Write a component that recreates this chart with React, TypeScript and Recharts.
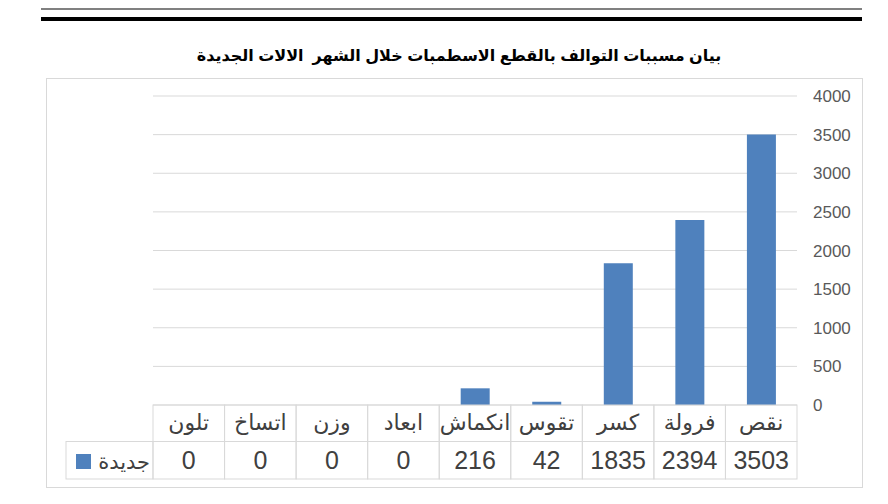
import React from 'react'
import { BarChart, Bar, XAxis, YAxis, CartesianGrid } from 'recharts'

// categories read right-to-left as in the original sheet
const categories = ['نقص', 'فرولة', 'كسر', 'تقوس', 'انكماش', 'ابعاد', 'وزن', 'اتساخ', 'تلون']
const newMachines = [3503, 2394, 1835, 42, 216, 0, 0, 0, 0]
const yTicks = [0, 500, 1000, 1500, 2000, 2500, 3000, 3500, 4000]
const seriesName = 'جديدة'
const title = 'بيان مسببات التوالف بالقطع الاسطمبات خلال الشهر  الالات الجديدة'

const W = 888
const H = 504
const MARGIN = { top: 96, right: 31, left: 153, bottom: 25 }
const Y_AXIS_W = 60
const PLOT_W = W - MARGIN.left - MARGIN.right - Y_AXIS_W
const CELL_W = PLOT_W / categories.length
const ROW1_H = 36.5
const ROW2_H = 37.5
const LEGEND_W = 87

const BAR_COLOR = '#4f81bd'
const LINE_COLOR = '#d9d9d9'
const TEXT_COLOR = '#404040'
const FONT = '"Liberation Sans", "DejaVu Sans", sans-serif'

const chartData = categories.map((name, i) => ({ name, [seriesName]: newMachines[i] }))

// the data table under the plot, drawn one column per tick
const TableTick = (props: any) => {
  const { x, y, payload } = props
  const idx = payload.index
  const left = x - CELL_W / 2
  const isLast = idx === categories.length - 1
  return (
    <g>
      <rect x={left} y={y} width={CELL_W} height={ROW1_H} fill="none" stroke={LINE_COLOR} />
      <rect x={left} y={y + ROW1_H} width={CELL_W} height={ROW2_H} fill="none" stroke={LINE_COLOR} />
      <text x={x} y={y + 25} textAnchor="middle" fontSize={22} fill={TEXT_COLOR} fontFamily={FONT}>
        {payload.value}
      </text>
      <text x={x} y={y + 64} textAnchor="middle" fontSize={25} fill={TEXT_COLOR} fontFamily={FONT}>
        {newMachines[idx]}
      </text>
      {isLast && (
        <g>
          <rect x={left - LEGEND_W} y={y + ROW1_H} width={LEGEND_W} height={ROW2_H} fill="none" stroke={LINE_COLOR} />
          <rect x={left - LEGEND_W + 10} y={y + ROW1_H + 12.5} width={15} height={15} fill={BAR_COLOR} />
          <text x={left - 3} y={y + ROW1_H + 27} textAnchor="end" fontSize={21} fill={TEXT_COLOR} fontFamily={FONT}>
            {seriesName}
          </text>
        </g>
      )}
    </g>
  )
}

export default function App() {
  return (
    <div style={{ position: 'absolute', left: 0, top: 0, width: W, height: H, background: '#fff', fontFamily: FONT }}>
      <div style={{ position: 'absolute', left: 41, top: 8, width: 821, height: 2, background: '#808080' }} />
      <div style={{ position: 'absolute', left: 41, top: 17, width: 821, height: 4, background: '#000' }} />
      <div style={{ position: 'absolute', left: 46, top: 78, width: 815, height: 408, border: `1px solid ${LINE_COLOR}` }} />
      <div
        dir="rtl"
        style={{
          position: 'absolute',
          left: 0,
          width: 918,
          top: 46,
          textAlign: 'center',
          fontSize: 16,
          fontWeight: 'bold',
          color: '#000',
          whiteSpace: 'pre',
        }}
      >
        {title}
      </div>
      <div style={{ position: 'absolute', left: 0, top: 0 }}>
        <BarChart width={W} height={H} data={chartData} margin={MARGIN} barCategoryGap="30%">
          <CartesianGrid vertical={false} stroke={LINE_COLOR} />
          <XAxis
            dataKey="name"
            reversed
            interval={0}
            axisLine={false}
            tickLine={false}
            tickSize={0}
            tickMargin={0}
            height={74}
            tick={<TableTick />}
          />
          <YAxis
            orientation="right"
            width={Y_AXIS_W}
            domain={[0, 4000]}
            ticks={yTicks}
            axisLine={false}
            tickLine={false}
            tickSize={0}
            tickMargin={16}
            tick={{ fill: '#595959', fontSize: 17, fontFamily: FONT, textAnchor: 'start' }}
          />
          <Bar dataKey={seriesName} fill={BAR_COLOR} isAnimationActive={false} />
        </BarChart>
      </div>
    </div>
  )
}
